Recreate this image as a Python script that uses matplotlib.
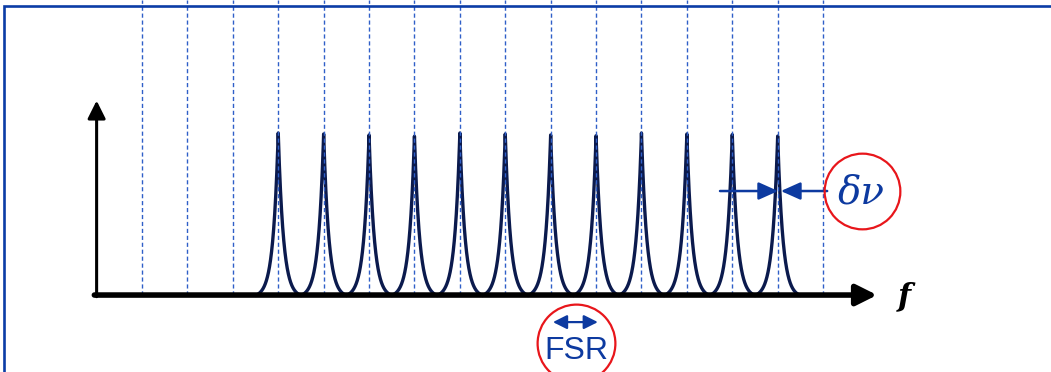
import numpy as np
import matplotlib.pyplot as plt
from matplotlib.patches import Rectangle

# cavity modes (in units of the free spectral range)
mode_numbers = [3, 4, 5, 6, 7, 8, 9, 10, 11, 12, 13, 14]
peak_heights = [1.00, 0.994, 0.988, 0.980, 1.00, 0.994, 0.988, 0.983, 1.00, 0.994, 0.990, 0.981]
grid_positions = [0, 1, 2, 3, 4, 5, 6, 7, 8, 9, 10, 11, 12, 13, 14, 15]

decay = 0.115     # decay length of each resonance
half_base = 0.48  # where a resonance curve is cut off

navy = '#0b1a4d'
blue = '#0d3aa0'
dash_blue = '#2f5fc8'
red = '#e8161b'


def resonance(d, h):
    e = np.exp(-np.abs(d) / decay)
    e0 = np.exp(-half_base / decay)
    return h * (e - e0) / (1.0 - e0)


fig = plt.figure(figsize=(10.51, 3.72), dpi=100)
ax = fig.add_axes([0, 0, 1, 1])
ax.set_xlim(-3.128, 20.02)
ax.set_ylim(-0.475, 1.821)
ax.axis('off')

# dashed grid of mode positions
for g in grid_positions:
    ax.plot([g, g], [0, 1.821], color=dash_blue, lw=1.0, ls=(0, (3, 2)), zorder=3)

# resonances
d = np.linspace(-half_base, half_base, 801)
for m, h in zip(mode_numbers, peak_heights):
    ax.plot(m + d, resonance(d, h), color=navy, lw=2.4, zorder=2)

# axes with arrowheads
ax.annotate('', xy=(16.19, 0), xytext=(-1.05, 0),
            arrowprops=dict(arrowstyle='-|>,head_length=0.62,head_width=0.31',
                            mutation_scale=20, lw=4, color='black',
                            shrinkA=0, shrinkB=0), zorder=4)
ax.annotate('', xy=(-1.0, 1.2), xytext=(-1.0, -0.01),
            arrowprops=dict(arrowstyle='-|>,head_length=0.54,head_width=0.27',
                            mutation_scale=20, lw=2.2, color='black',
                            shrinkA=0, shrinkB=0), zorder=4)
ax.text(16.78, -0.012, 'f', fontsize=22, family='DejaVu Serif', style='italic',
        weight='bold', ha='center', va='center', color='black')

# linewidth marker
ax.annotate('', xy=(14.01, 0.642), xytext=(12.73, 0.642),
            arrowprops=dict(arrowstyle='-|>,head_length=0.85,head_width=0.38',
                            mutation_scale=14, lw=1.8, color=blue,
                            shrinkA=0, shrinkB=0), zorder=5)
ax.annotate('', xy=(14.07, 0.642), xytext=(15.09, 0.642),
            arrowprops=dict(arrowstyle='-|>,head_length=0.85,head_width=0.38',
                            mutation_scale=14, lw=1.8, color=blue,
                            shrinkA=0, shrinkB=0), zorder=5)
ax.plot(15.86, 0.642, 'o', ms=54.5, mfc='none', mec=red, mew=1.6, zorder=6)
ax.text(15.84, 0.63, 'δν', fontsize=28, family='DejaVu Serif', style='italic',
        ha='center', va='center', color=blue, zorder=7)

# free spectral range marker
ax.plot(9.56, -0.296, 'o', ms=56, mfc='none', mec=red, mew=1.6, zorder=6)
ax.annotate('', xy=(10.04, -0.167), xytext=(9.05, -0.167),
            arrowprops=dict(arrowstyle='<|-|>,head_length=0.7,head_width=0.35',
                            mutation_scale=12, lw=1.6, color=blue,
                            shrinkA=0, shrinkB=0), zorder=7)
ax.text(9.56, -0.346, 'FSR', fontsize=23, family='Liberation Sans',
        ha='center', va='center', color=blue, zorder=7)

# outer frame
fig.patches.append(Rectangle((4 / 1051, -0.1), 1.2, 1.1 - 6 / 372,
                             transform=fig.transFigure, fill=False,
                             ec='#0b3ca6', lw=1.9))

fig.savefig('out.png', dpi=100)
